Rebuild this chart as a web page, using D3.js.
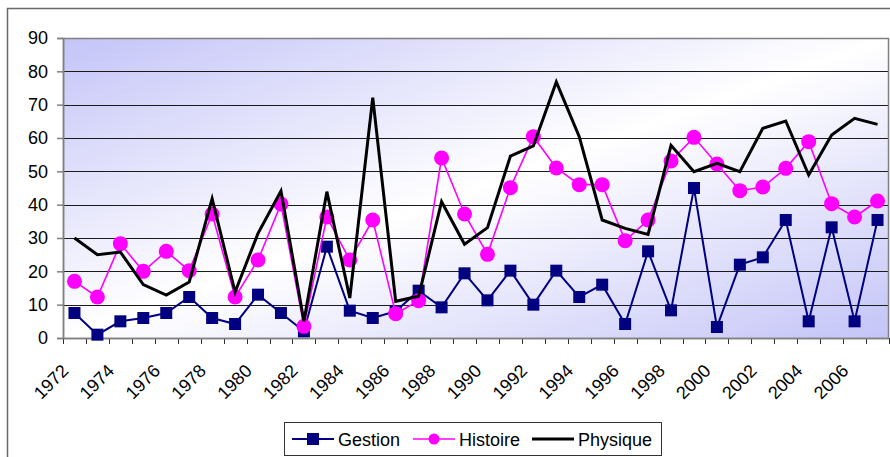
<!DOCTYPE html>
<html>
<head>
<meta charset="utf-8">
<script src="https://cdn.jsdelivr.net/npm/d3@7"></script>
<style>
  body { margin: 0; background: #fff; }
  svg text { font-family: "Liberation Sans", Arial, sans-serif; fill: #000; }
</style>
</head>
<body>
<div id="chart"></div>
<script>
// années 1972 -> 2007
const years = d3.range(1972, 2008);
const yTicks = [0, 10, 20, 30, 40, 50, 60, 70, 80, 90];

const gestion = [7.5, 1, 5, 6, 7.5, 12.3, 6, 4.2, 13, 7.5,
  2, 27.4, 8.2, 6, 8, 14.2, 9.2, 19.4, 11.3, 20.2,
  10, 20.2, 12.3, 16, 4.2, 26, 8.3, 45, 3.3, 22,
  24.2, 35.4, 5, 33.2, 5, 35.4];

const histoire = [17, 12.3, 28.3, 20, 26, 20.2, 37.2, 12.3, 23.4, 40.2,
  3.5, 36.3, 23.4, 35.4, 7.3, 11.2, 54, 37.2, 25.1, 45.1,
  60.4, 51, 46, 46, 29.2, 35.4, 53.1, 60.2, 52.2, 44.2,
  45.3, 50.9, 58.9, 40.3, 36.3, 41.1];

const physique = [30, 25, 25.8, 16, 12.9, 16.8, 41.8, 13.8, 31.4, 44.1,
  5, 43.9, 12, 72.1, 11, 12.5, 40.9, 28.1, 33.1, 54.6,
  57.6, 76.8, 60.4, 35.4, 32.9, 31.1, 57.8, 49.9, 52.4, 49.9,
  62.9, 65.1, 48.9, 60.9, 65.9, 64.1];

const series = [
  { name: "Gestion", values: gestion, color: "#000080", width: 2, marker: "square" },
  { name: "Histoire", values: histoire, color: "#ff00ff", width: 1.6, marker: "circle" },
  { name: "Physique", values: physique, color: "#000000", width: 3, marker: null }
];

const W = 890, H = 457;
const plot = { left: 63, right: 889, top: 38, bottom: 338 };

const svg = d3.select("#chart").append("svg")
  .attr("width", W)
  .attr("height", H);

// cadre du graphique
svg.append("rect")
  .attr("x", 7.5).attr("y", 8.5)
  .attr("width", 900).attr("height", 470)
  .attr("fill", "#fff")
  .attr("stroke", "#6a6a6a")
  .attr("stroke-width", 1.5);

// dégradé diagonal de la zone de traçage
const defs = svg.append("defs");
const grad = defs.append("linearGradient")
  .attr("id", "bg")
  .attr("x1", 0).attr("y1", 0).attr("x2", 1).attr("y2", 1);
grad.append("stop").attr("offset", "0%").attr("stop-color", "#c4c4f8");
grad.append("stop").attr("offset", "50%").attr("stop-color", "#ffffff");
grad.append("stop").attr("offset", "100%").attr("stop-color", "#c4c4f8");

const x = d3.scaleBand()
  .domain(years)
  .range([plot.left, plot.right])
  .padding(0);

const y = d3.scaleLinear()
  .domain([0, 90])
  .range([plot.bottom, plot.top]);

const cx = d => x(d) + x.bandwidth() / 2;

svg.append("rect")
  .attr("x", plot.left).attr("y", plot.top)
  .attr("width", plot.right - plot.left)
  .attr("height", plot.bottom - plot.top)
  .attr("fill", "url(#bg)");

// lignes de quadrillage
svg.append("g")
  .selectAll("line")
  .data(yTicks.filter(t => t > 0 && t < 90))
  .join("line")
    .attr("x1", plot.left).attr("x2", plot.right)
    .attr("y1", d => Math.round(y(d)) + 0.5)
    .attr("y2", d => Math.round(y(d)) + 0.5)
    .attr("stroke", "#1a1a1a")
    .attr("stroke-width", 1);

// bordure de la zone
svg.append("rect")
  .attr("x", plot.left + 0.5).attr("y", plot.top + 0.5)
  .attr("width", plot.right - plot.left - 1)
  .attr("height", plot.bottom - plot.top)
  .attr("fill", "none")
  .attr("stroke", "#808080")
  .attr("stroke-width", 1.5);

// axe Y
const yAxis = svg.append("g")
  .attr("transform", `translate(${plot.left},0)`)
  .call(d3.axisLeft(y).tickValues(yTicks).tickSize(6).tickPadding(9));
yAxis.select(".domain").attr("stroke", "#808080").attr("stroke-width", 1.5);
yAxis.selectAll(".tick line").attr("stroke", "#808080").attr("stroke-width", 1.5);
yAxis.selectAll(".tick text")
  .style("font-size", "18px")
  .attr("font-family", null);

// axe X : graduations aux limites des catégories
const boundaries = years.map(d => x(d)).concat([plot.right]);
svg.append("g")
  .selectAll("line")
  .data(boundaries)
  .join("line")
    .attr("x1", d => Math.round(d) + 0.5).attr("x2", d => Math.round(d) + 0.5)
    .attr("y1", plot.bottom).attr("y2", plot.bottom + 6)
    .attr("stroke", "#333")
    .attr("stroke-width", 1);

svg.append("line")
  .attr("x1", plot.left).attr("x2", plot.right)
  .attr("y1", plot.bottom + 0.5).attr("y2", plot.bottom + 0.5)
  .attr("stroke", "#808080")
  .attr("stroke-width", 1.5);

svg.append("g")
  .selectAll("text")
  .data(years.filter(d => d % 2 === 0))
  .join("text")
    .attr("transform", d => `translate(${cx(d) - 5},${plot.bottom + 34}) rotate(-45)`)
    .attr("text-anchor", "end")
    .style("font-size", "18px")
    .text(d => d);

// séries
const line = d3.line()
  .x((d, i) => cx(years[i]))
  .y(d => y(d));

series.forEach(s => {
  const g = svg.append("g");
  g.append("path")
    .datum(s.values)
    .attr("d", line)
    .attr("fill", "none")
    .attr("stroke", s.color)
    .attr("stroke-width", s.width)
    .attr("stroke-linejoin", "miter");

  if (s.marker === "square") {
    g.selectAll("rect")
      .data(s.values)
      .join("rect")
        .attr("x", (d, i) => cx(years[i]) - 6)
        .attr("y", d => y(d) - 6)
        .attr("width", 12).attr("height", 12)
        .attr("fill", s.color);
  } else if (s.marker === "circle") {
    g.selectAll("circle")
      .data(s.values)
      .join("circle")
        .attr("cx", (d, i) => cx(years[i]))
        .attr("cy", d => y(d))
        .attr("r", 7.5)
        .attr("fill", s.color);
  }
});

// légende
const legend = svg.append("g");
legend.append("rect")
  .attr("x", 284.5).attr("y", 422.5)
  .attr("width", 377).attr("height", 33)
  .attr("fill", "#fff")
  .attr("stroke", "#333")
  .attr("stroke-width", 1);

const legendX = [292, 413, 532];
series.forEach((s, i) => {
  const lx = legendX[i];
  const ly = 439;
  legend.append("line")
    .attr("x1", lx).attr("x2", lx + 42)
    .attr("y1", ly).attr("y2", ly)
    .attr("stroke", s.color)
    .attr("stroke-width", s.width);
  if (s.marker === "square") {
    legend.append("rect")
      .attr("x", lx + 21 - 6).attr("y", ly - 6)
      .attr("width", 12).attr("height", 12)
      .attr("fill", s.color);
  } else if (s.marker === "circle") {
    legend.append("circle")
      .attr("cx", lx + 21).attr("cy", ly)
      .attr("r", 5.5)
      .attr("fill", s.color);
  }
  legend.append("text")
    .attr("x", lx + 46)
    .attr("y", ly + 6.5)
    .style("font-size", "18px")
    .text(s.name);
});
</script>
</body>
</html>
